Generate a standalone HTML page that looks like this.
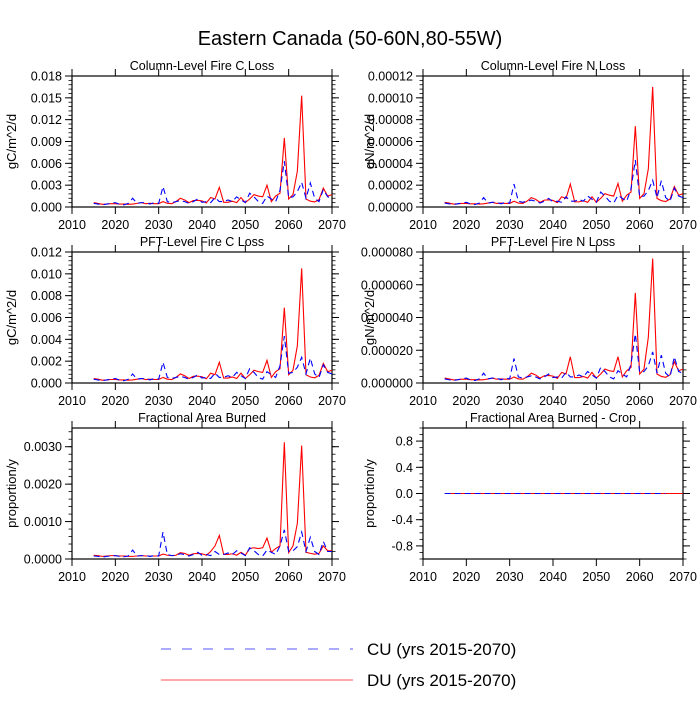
<!DOCTYPE html>
<html><head><meta charset="utf-8"><style>
body{margin:0;background:#fff;width:700px;height:700px;overflow:hidden}
svg text{font-family:"Liberation Sans",Arial,sans-serif;fill:#000}
</style></head><body>
<svg id="chart" width="700" height="700" viewBox="0 0 700 700">
<text x="350" y="45" font-size="20" text-anchor="middle">Eastern Canada (50-60N,80-55W)</text>
<g>
<line x1="161" y1="649" x2="353" y2="649" stroke="#7777ff" stroke-width="1.2" stroke-dasharray="10,11"/>
<text x="367" y="655" font-size="17">CU (yrs 2015-2070)</text>
<line x1="161" y1="680" x2="353" y2="680" stroke="#ff7777" stroke-width="1.2"/>
<text x="367" y="686" font-size="17">DU (yrs 2015-2070)</text>
</g>
</svg>
<script>
const years=[];for(let y=2015;y<=2070;y++)years.push(y);
const xTicks=[2010,2020,2030,2040,2050,2060,2070];
// Column C (units 1e-3)
const duColC=[0.6,0.5,0.37,0.4,0.46,0.46,0.4,0.4,0.37,0.4,0.5,0.6,0.46,0.5,0.46,0.46,0.74,0.5,0.46,0.74,1.2,0.97,0.6,0.88,0.92,0.83,0.55,1.3,1.1,2.7,0.65,0.65,0.79,0.6,1.3,0.6,1.1,1.7,1.5,1.4,3.0,0.74,1.5,1.9,9.5,1.1,1.7,4.9,15.3,1.1,0.8,0.7,1.0,2.6,1.5,1.7];
const cuColC=[0.5,0.4,0.3,0.4,0.5,0.6,0.37,0.3,0.5,1.2,0.5,0.6,0.6,0.4,0.6,0.5,2.8,0.74,0.6,0.74,0.88,0.74,0.5,0.74,1.1,0.65,0.74,0.6,1.3,0.74,0.74,0.97,0.74,1.4,0.97,0.6,1.9,1.4,0.74,0.5,1.5,1.1,0.74,2.3,6.3,1.3,1.4,2.1,3.4,1.2,3.3,1.2,0.74,2.4,1.4,1.2];
// Column N (units 1e-5)
const duColN=[0.43,0.36,0.27,0.29,0.33,0.33,0.29,0.29,0.27,0.29,0.36,0.43,0.33,0.36,0.33,0.33,0.53,0.36,0.33,0.53,0.86,0.7,0.43,0.63,0.66,0.6,0.4,0.94,0.79,2.1,0.47,0.47,0.57,0.43,0.94,0.43,0.79,1.22,1.08,1.0,2.16,0.53,1.08,1.37,7.4,0.79,1.22,3.5,11.0,0.79,0.58,0.5,0.72,1.87,1.08,1.22];
const cuColN=[0.36,0.29,0.22,0.29,0.36,0.43,0.27,0.22,0.36,0.86,0.36,0.43,0.43,0.29,0.43,0.36,2.1,0.53,0.43,0.53,0.63,0.53,0.36,0.53,0.79,0.47,0.53,0.43,0.94,0.53,0.53,0.7,0.53,1.0,0.7,0.43,1.37,1.0,0.53,0.36,1.08,0.79,0.53,1.66,4.3,0.94,1.0,1.5,2.45,0.86,2.4,0.86,0.53,1.73,1.0,0.86];
// PFT C (units 1e-3)
const duPftC=[0.41,0.35,0.26,0.28,0.32,0.32,0.28,0.28,0.26,0.28,0.35,0.41,0.32,0.35,0.32,0.32,0.51,0.35,0.32,0.51,0.83,0.67,0.41,0.61,0.63,0.57,0.38,0.9,0.76,1.9,0.45,0.45,0.55,0.41,0.9,0.41,0.76,1.17,1.04,0.97,2.07,0.51,1.04,1.31,6.9,0.76,1.17,3.4,10.5,0.76,0.55,0.48,0.69,1.8,1.04,1.17];
const cuPftC=[0.35,0.28,0.21,0.28,0.35,0.41,0.26,0.21,0.35,0.83,0.35,0.41,0.41,0.28,0.41,0.35,1.9,0.51,0.41,0.51,0.61,0.51,0.35,0.51,0.76,0.45,0.51,0.41,0.9,0.51,0.51,0.67,0.51,0.97,0.67,0.41,1.31,0.97,0.51,0.35,1.04,0.76,0.51,1.59,4.3,0.9,0.97,1.45,2.35,0.83,2.28,0.83,0.51,1.66,0.97,0.83];
// PFT N (units 1e-6)
const duPftN=[3.0,2.5,1.9,2.0,2.3,2.3,2.0,2.0,1.9,2.0,2.5,3.0,2.3,2.5,2.3,2.3,3.7,2.5,2.3,3.7,6.0,4.9,3.0,4.4,4.6,4.2,2.8,6.5,5.5,16,3.3,3.3,4.0,3.0,6.5,3.0,5.5,8.5,7.5,7.0,16,3.7,7.5,9.5,55,5.5,8.5,28,76,5.5,4.0,3.5,5.0,13,7.5,8.5];
const cuPftN=[2.5,2.0,1.5,2.0,2.5,3.0,1.9,1.5,2.5,6.0,2.5,3.0,3.0,2.0,3.0,2.5,15,3.7,3.0,3.7,4.4,3.7,2.5,3.7,5.5,3.3,3.7,3.0,6.5,3.7,3.7,4.9,3.7,7.0,4.9,3.0,9.5,7.0,3.7,2.5,7.5,5.5,3.7,11.5,30,6.5,7.0,10.5,19,6.0,17,6.0,3.7,16,7.0,6.0];
// Fractional area (units 1e-3)
const duFrac=[0.1,0.09,0.07,0.08,0.09,0.09,0.08,0.08,0.07,0.07,0.08,0.09,0.08,0.08,0.08,0.08,0.13,0.1,0.09,0.1,0.17,0.15,0.1,0.14,0.15,0.14,0.1,0.2,0.35,0.63,0.12,0.12,0.14,0.1,0.18,0.1,0.28,0.3,0.28,0.3,0.56,0.18,0.28,0.35,3.12,0.17,0.35,0.95,3.03,0.18,0.15,0.13,0.15,0.35,0.22,0.22];
const cuFrac=[0.08,0.07,0.05,0.07,0.08,0.09,0.07,0.06,0.08,0.24,0.08,0.09,0.09,0.07,0.09,0.08,0.72,0.12,0.09,0.1,0.14,0.12,0.08,0.12,0.18,0.1,0.12,0.09,0.2,0.12,0.12,0.16,0.12,0.22,0.16,0.09,0.3,0.22,0.12,0.08,0.24,0.18,0.12,0.35,0.78,0.2,0.22,0.33,0.72,0.2,0.58,0.2,0.12,0.47,0.2,0.2];
// Crop fraction
const duCrop=[0,0,0,0,0,0,0,0,0,0,0,0,0,0,0,0,0,0,0,0,0,0,0,0,0,0,0,0,0,0,0,0,0,0,0,0,0,0,0,0,0,0,0,0,0,0,0,0,0,0,0,0,0,0,0,0];
const cuCrop=[0,0,0,0,0,0,0,0,0,0,0,0,0,0,0,0,0,0,0,0,0,0,0,0,0,0,0,0,0,0,0,0,0,0,0,0,0,0,0,0,0,0,0,0,0,0,0,0,0,0,0,0];
const ticksColC=["0.000","0.003","0.006","0.009","0.012","0.015","0.018"];
const ticksColN=["0.00000","0.00002","0.00004","0.00006","0.00008","0.00010","0.00012"];
const ticksPftC=["0.000","0.002","0.004","0.006","0.008","0.010","0.012"];
const ticksPftN=["0.000000","0.000020","0.000040","0.000060","0.000080"];
const ticksFrac=["0.0000","0.0010","0.0020","0.0030"];
const ticksCrop=["-0.8","-0.4","0.0","0.4","0.8"];

const NS="http://www.w3.org/2000/svg";
const svg=document.getElementById('chart');
function mk(tag,attrs,parent){const e=document.createElementNS(NS,tag);for(const k in attrs)e.setAttribute(k,attrs[k]);(parent||svg).appendChild(e);return e;}

const panels=[
 {name:'column-c-loss',title:'Column-Level Fire C Loss',yt:'gC/m^2/d',x:72,y:76,scale:1e-3,ymin:0,ymax:0.018,tv:[0,0.003,0.006,0.009,0.012,0.015,0.018],tl:ticksColC,minor:0.0006,du:duColC,cu:cuColC},
 {name:'column-n-loss',title:'Column-Level Fire N Loss',yt:'gN/m^2/d',x:423,y:76,scale:1e-5,ymin:0,ymax:0.00012,tv:[0,2e-5,4e-5,6e-5,8e-5,1e-4,1.2e-4],tl:ticksColN,minor:4e-6,du:duColN,cu:cuColN},
 {name:'pft-c-loss',title:'PFT-Level Fire C Loss',yt:'gC/m^2/d',x:72,y:252,scale:1e-3,ymin:0,ymax:0.012,tv:[0,0.002,0.004,0.006,0.008,0.010,0.012],tl:ticksPftC,minor:0.0004,du:duPftC,cu:cuPftC},
 {name:'pft-n-loss',title:'PFT-Level Fire N Loss',yt:'gN/m^2/d',x:423,y:252,scale:1e-6,ymin:0,ymax:0.00008,tv:[0,2e-5,4e-5,6e-5,8e-5],tl:ticksPftN,minor:4e-6,du:duPftN,cu:cuPftN},
 {name:'frac-area-burned',title:'Fractional Area Burned',yt:'proportion/y',x:72,y:428,scale:1e-3,ymin:0,ymax:0.0035,tv:[0,0.001,0.002,0.003],tl:ticksFrac,minor:0.0002,du:duFrac,cu:cuFrac},
 {name:'frac-area-burned-crop',title:'Fractional Area Burned - Crop',yt:'proportion/y',x:423,y:428,scale:1,ymin:-1,ymax:1,tv:[-0.8,-0.4,0,0.4,0.8],tl:ticksCrop,minor:0.1,du:duCrop,cu:cuCrop}
];
const W=260,H=131;
panels.forEach(p=>{
 const g=mk('g',{});
 
 
 const sx=v=>p.x+(v-2010)/60*W;
 const sy=v=>p.y+H-(v-p.ymin)/(p.ymax-p.ymin)*H;
 const t=mk('text',{x:p.x+W/2,y:p.y-6,'font-size':12.5,'text-anchor':'middle'},g);t.textContent=p.title;
 
 
 for(let v=p.ymin;v<=p.ymax+1e-12;v+=p.minor){const yy=sy(v);
  mk('line',{x1:p.x-3.5,x2:p.x,y1:yy,y2:yy,stroke:'#000','stroke-width':0.8},g);
  mk('line',{x1:p.x+W,x2:p.x+W+3.5,y1:yy,y2:yy,stroke:'#000','stroke-width':0.8},g);}
 p.tv.forEach((v,i)=>{const yy=sy(v);
  mk('line',{x1:p.x-7,x2:p.x,y1:yy,y2:yy,stroke:'#000','stroke-width':1},g);
  mk('line',{x1:p.x+W,x2:p.x+W+7,y1:yy,y2:yy,stroke:'#000','stroke-width':1},g);
  const tx=mk('text',{x:p.x-10,y:yy+4.5,'font-size':12.5,'text-anchor':'end'},g);tx.textContent=p.tl[i];
  
  });
 xTicks.forEach(v=>{const xx=sx(v);
  mk('line',{x1:xx,x2:xx,y1:p.y+H,y2:p.y+H+7,stroke:'#000','stroke-width':1},g);
  mk('line',{x1:xx,x2:xx,y1:p.y-7,y2:p.y,stroke:'#000','stroke-width':1},g);
  const tx=mk('text',{x:xx,y:p.y+H+22,'font-size':12.5,'text-anchor':'middle'},g);tx.textContent=v;
  
  });
 mk('rect',{x:p.x,y:p.y,width:W,height:H,fill:'none',stroke:'#000','stroke-width':1.2},g);
 const labX=p.x===72?16:374;
 const yt=mk('text',{x:labX,y:p.y+H/2,'font-size':13,'text-anchor':'middle',transform:`rotate(-90 ${labX} ${p.y+H/2})`},g);yt.textContent=p.yt;
 
 
 const ptsDU=p.du.map((v,i)=>sx(years[i]).toFixed(2)+','+sy(v*p.scale).toFixed(2)).join(' ');
 const ptsCU=p.cu.map((v,i)=>sx(years[i]).toFixed(2)+','+sy(v*p.scale).toFixed(2)).join(' ');
 const l1=mk('polyline',{points:ptsDU,fill:'none',stroke:'#ff0000','stroke-width':1.1},g);
 
 
 const l2=mk('polyline',{points:ptsCU,fill:'none',stroke:'#0000ff','stroke-width':1.1,'stroke-dasharray':'6,4'},g);
 
 
});
</script>
</body></html>
